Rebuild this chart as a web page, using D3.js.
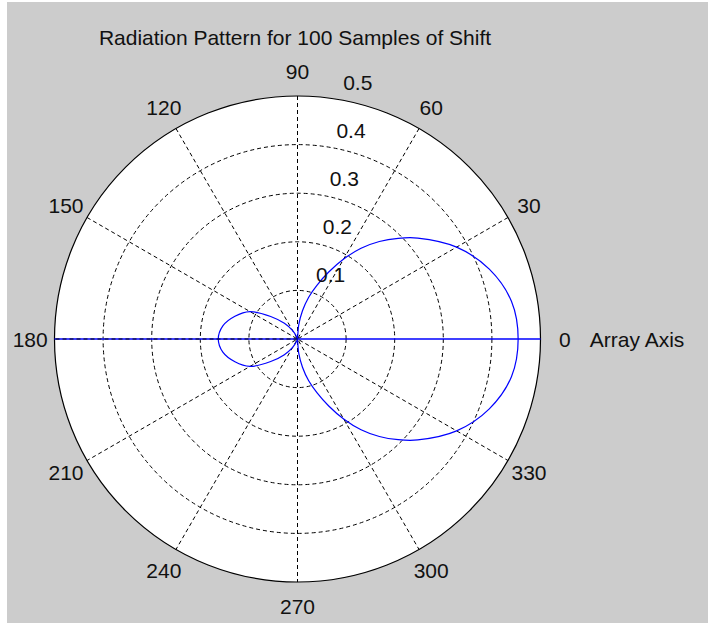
<!DOCTYPE html>
<html>
<head>
<meta charset="utf-8">
<script src="https://cdn.jsdelivr.net/npm/d3@7/dist/d3.min.js"></script>
<style>
  html, body { margin: 0; padding: 0; background: #ffffff; }
  svg { display: block; }
  text { font-family: "Liberation Sans", Arial, sans-serif; fill: #111; }
</style>
</head>
<body>
<script>
// Polar radiation pattern: angle (degrees, counter-clockwise from the array axis) and magnitude
const patternAngles = [0, 10, 20, 30, 40, 45, 50, 55, 60, 65, 70, 75, 80, 85, 90,
  100, 110, 120, 130, 140, 150, 160, 170, 180, 190, 200, 210, 220, 230, 240, 250, 260,
  270, 275, 280, 285, 290, 295, 300, 305, 310, 315, 320, 330, 340, 350];
const patternRadii = [0.454, 0.447, 0.420, 0.378, 0.323, 0.293, 0.262, 0.228, 0.190, 0.152, 0.118, 0.089, 0.059, 0.029, 0.0,
  0.001, 0.005, 0.020, 0.042, 0.072, 0.113, 0.137, 0.156, 0.163, 0.156, 0.137, 0.113, 0.072, 0.042, 0.020, 0.005, 0.001,
  0.0, 0.029, 0.059, 0.089, 0.118, 0.152, 0.190, 0.228, 0.262, 0.293, 0.323, 0.378, 0.420, 0.447];

// Array axis line (drawn across the full diameter)
const axisAngles = [180, 0];
const axisRadii = [0.5, 0.5];

const ringValues = [0.1, 0.2, 0.3, 0.4, 0.5];
const spokeAngles = [0, 30, 60, 90, 120, 150];
const angleLabels = [0, 30, 60, 90, 120, 150, 180, 210, 240, 270, 300, 330];
const titleText = "Radiation Pattern for 100 Samples of Shift";
const axisName = "Array Axis";

const W = 708, H = 623;
const cx = 297.5, cy = 339, R = 243;

const svg = d3.select("body").append("svg").attr("width", W).attr("height", H);

// figure background
svg.append("rect").attr("x", 7).attr("y", 2).attr("width", W - 7).attr("height", H - 2).attr("fill", "#cccccc");

const r = d3.scaleLinear().domain([0, 0.5]).range([0, R]);
const toRad = d => d * Math.PI / 180;
const px = (rad, deg) => r(rad) * Math.cos(toRad(deg));
const py = (rad, deg) => -r(rad) * Math.sin(toRad(deg));

const g = svg.append("g").attr("transform", `translate(${cx},${cy})`);

// white plotting disk
g.append("circle").attr("r", r(0.5)).attr("fill", "#ffffff");

const dash = "4,3";

// dashed range rings
g.selectAll("circle.ring").data(ringValues.slice(0, -1)).join("circle")
  .attr("class", "ring").attr("r", d => r(d))
  .attr("fill", "none").attr("stroke", "#000").attr("stroke-width", 1).attr("stroke-dasharray", dash);

// dashed spokes through the centre (the 0-180 one is drawn later over the axis line)
g.selectAll("line.spoke").data(spokeAngles.filter(a => a !== 0)).join("line")
  .attr("class", "spoke")
  .attr("x1", a => px(0.5, a)).attr("y1", a => py(0.5, a))
  .attr("x2", a => px(0.5, a + 180)).attr("y2", a => py(0.5, a + 180))
  .attr("stroke", "#000").attr("stroke-width", 1).attr("stroke-dasharray", dash);

// outer solid ring
g.append("circle").attr("r", r(0.5)).attr("fill", "none").attr("stroke", "#000").attr("stroke-width", 1.2);

// radiation pattern
const pattern = patternAngles.map((a, i) => [toRad(90 - a), r(patternRadii[i])]);
const radial = d3.lineRadial().curve(d3.curveCatmullRomClosed.alpha(0.5));
g.append("path").attr("d", radial(pattern))
  .attr("fill", "none").attr("stroke", "#0000ff").attr("stroke-width", 1.2);

// array axis line
g.append("line")
  .attr("x1", px(axisRadii[0], axisAngles[0])).attr("y1", py(axisRadii[0], axisAngles[0]))
  .attr("x2", px(axisRadii[1], axisAngles[1])).attr("y2", py(axisRadii[1], axisAngles[1]))
  .attr("stroke", "#0000ff").attr("stroke-width", 1.3);

// 180 side of the horizontal spoke, dashed over the axis line
g.append("line")
  .attr("x1", 0).attr("y1", 0)
  .attr("x2", px(0.5, 180)).attr("y2", py(0.5, 180))
  .attr("stroke", "#000").attr("stroke-width", 1).attr("stroke-dasharray", dash);

// angle labels
g.selectAll("text.ang").data(angleLabels).join("text")
  .attr("class", "ang")
  .attr("x", a => px(0.55, a)).attr("y", a => py(0.55, a))
  .attr("dy", "0.36em").attr("text-anchor", "middle")
  .style("font-size", "21px")
  .text(a => a);

// radial tick labels
g.selectAll("text.rl").data(ringValues).join("text")
  .attr("class", "rl")
  .attr("x", v => px(v + 0.005, 82) + 11.5)
  .attr("y", v => py(v + 0.005, 82) - 6)
  .attr("text-anchor", "start")
  .style("font-size", "21px")
  .text(v => v.toString());

// axis name next to the 0 label
g.append("text")
  .attr("x", px(0.55, 0) + 25).attr("y", py(0.55, 0))
  .attr("dy", "0.36em").attr("text-anchor", "start")
  .style("font-size", "21px")
  .text(axisName);

// title
svg.append("text")
  .attr("x", 295).attr("y", 45)
  .attr("text-anchor", "middle")
  .style("font-size", "21px")
  .text(titleText);
</script>
</body>
</html>
